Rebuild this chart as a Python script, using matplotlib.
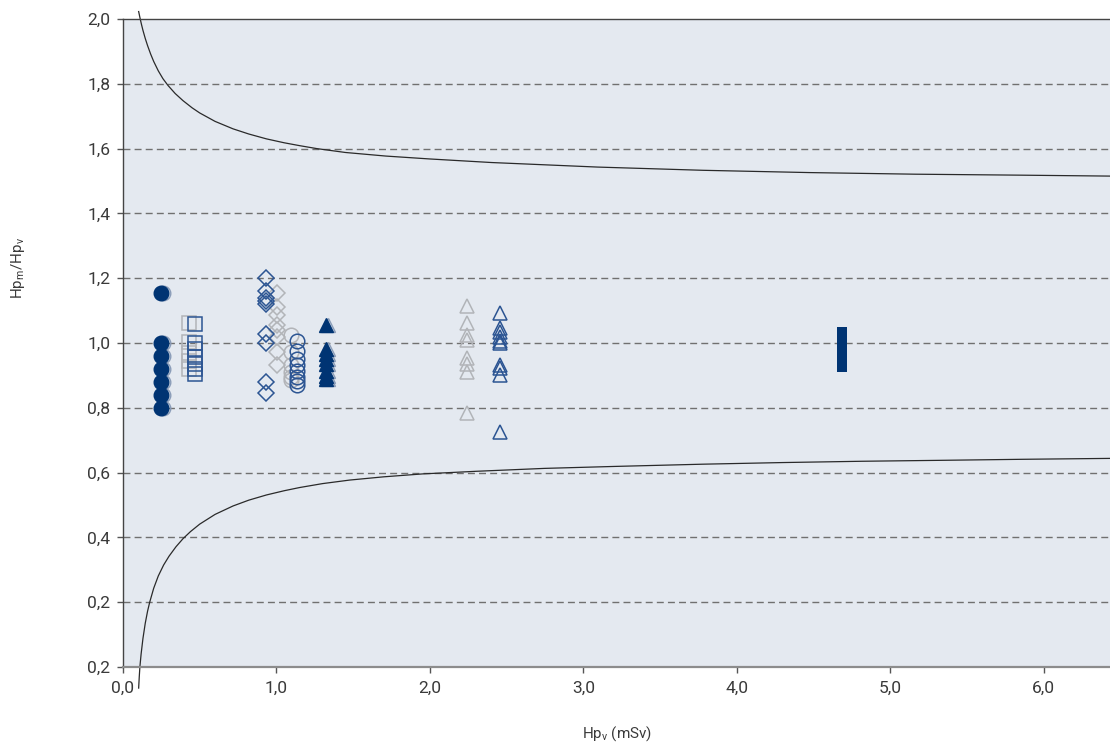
import matplotlib
matplotlib.use("Agg")
import matplotlib.pyplot as plt

# ---------------- data ----------------
# trumpet curves
upper_x = [0.102, 0.110, 0.120, 0.130, 0.145, 0.160, 0.180, 0.200, 0.230, 0.260, 0.293,
           0.340, 0.391, 0.45, 0.5, 0.6, 0.717, 0.82, 0.935, 1.05, 1.152, 1.263, 1.45,
           1.712, 2.0, 2.402, 3.092, 3.782, 4.472, 5.163, 5.852, 6.46]
upper_y = [2.023, 2.005, 1.984, 1.965, 1.940, 1.918, 1.892, 1.869, 1.840, 1.816, 1.795,
           1.770, 1.748, 1.726, 1.710, 1.684, 1.661, 1.645, 1.630, 1.618, 1.609, 1.600, 1.588,
           1.577, 1.568, 1.557, 1.543, 1.533, 1.526, 1.521, 1.518, 1.515]
lower_x = [0.102, 0.106, 0.110, 0.118, 0.130, 0.145, 0.160, 0.174, 0.200, 0.230, 0.265,
           0.30, 0.345, 0.391, 0.44, 0.5, 0.6, 0.717, 0.82, 0.935, 1.05, 1.152, 1.3,
           1.478, 1.7, 1.954, 2.3, 2.747, 3.2, 3.782, 4.3, 4.817, 5.35, 5.852, 6.46]
lower_y = [-0.065, -0.03, 0.0, 0.04, 0.088, 0.135, 0.172, 0.200, 0.243, 0.281, 0.315,
           0.342, 0.371, 0.396, 0.418, 0.441, 0.471, 0.497, 0.515, 0.531, 0.544, 0.554, 0.566,
           0.577, 0.587, 0.596, 0.604, 0.613, 0.619, 0.626, 0.631, 0.635, 0.638, 0.641, 0.644]

# filled navy circles
circ_fill_x = 0.246
circ_fill_y = [1.155, 1.0, 0.96, 0.92, 0.88, 0.84, 0.80]
# open squares (grey / blue)
sq_grey_x = 0.428
sq_grey_y = [1.063, 1.004, 0.968, 0.943, 0.919]
sq_blue_x = 0.467
sq_blue_y = [1.058, 1.0, 0.98, 0.957, 0.935, 0.919, 0.905]
# open diamonds (blue / grey)
dia_blue_x = 0.935
dia_blue_y = [1.202, 1.160, 1.140, 1.130, 1.119, 1.027, 1.0, 0.879, 0.845]
dia_grey_x = 1.006
dia_grey_y = [1.153, 1.112, 1.086, 1.056, 1.040, 1.019, 0.973, 0.932]
# open circles (grey / blue)
circ_grey_x = 1.098
circ_grey_y = [1.025, 0.973, 0.932, 0.911, 0.896, 0.886]
circ_blue_x = 1.137
circ_blue_y = [1.006, 0.975, 0.951, 0.932, 0.914, 0.896, 0.883, 0.870]
# filled navy triangles
tri_fill_x = 1.326
tri_fill_y = [1.055, 0.98, 0.965, 0.95, 0.935, 0.915, 0.898, 0.89]
# open triangles (grey / blue)
tri_grey_x = 2.245
tri_grey_y = [1.114, 1.062, 1.025, 1.009, 0.954, 0.935, 0.91, 0.784]
tri_blue_x = 2.458
tri_blue_y = [1.092, 1.045, 1.035, 1.019, 1.005, 0.999, 0.932, 0.922, 0.901, 0.726]
# range bar
bar_x = 4.683
bar_low = 0.91
bar_high = 1.05

x_ticks = [0, 1, 2, 3, 4, 5, 6]
x_labels = ["0,0", "1,0", "2,0", "3,0", "4,0", "5,0", "6,0"]
y_ticks = [0.0, 0.2, 0.4, 0.6, 0.8, 1.0, 1.2, 1.4, 1.6, 1.8, 2.0]
y_labels = ["0,2", "0,2", "0,4", "0,6", "0,8", "1,0", "1,2", "1,4", "1,6", "1,8", "2,0"]

# ---------------- style ----------------
NAVY = "#003473"
BLUE = "#2c5593"
GREY = "#b2b4b8"
SHADOW = "#8a9cb8"
BG = "#e4e9f0"
TXT = "#3a3a3a"

plt.rcParams["font.family"] = ["Roboto", "DejaVu Sans"]
plt.rcParams["mathtext.fontset"] = "custom"
plt.rcParams["mathtext.rm"] = "Roboto"
plt.rcParams["mathtext.it"] = "Roboto"

fig = plt.figure(figsize=(11.10, 7.47), dpi=100)
ax = fig.add_axes([123 / 1110, (747 - 667) / 747, 987 / 1110, 648 / 747])
ax.set_facecolor(BG)
ax.set_xlim(0, 6.432)
ax.set_ylim(0, 2.0)

# grid
for yv in y_ticks[1:-1]:
    ax.axhline(yv, color="#707070", lw=1.0, dashes=(5, 3), zorder=1)

# curves
ax.plot(upper_x, upper_y, color="#2a2a2a", lw=0.9, clip_on=False, zorder=2)
ax.plot(lower_x, lower_y, color="#2a2a2a", lw=0.9, clip_on=False, zorder=2)

dx = 0.013
ms = 10.5
# filled circles with shadow
ax.plot([circ_fill_x + dx] * len(circ_fill_y), circ_fill_y, "o", ms=ms, mfc="none",
        mec=SHADOW, mew=1.0, ls="none", zorder=3)
ax.plot([circ_fill_x] * len(circ_fill_y), circ_fill_y, "o", ms=ms, mfc=NAVY,
        mec=NAVY, mew=1.0, ls="none", zorder=4)
# squares
ax.plot([sq_grey_x] * len(sq_grey_y), sq_grey_y, "s", ms=9.5, mfc="none", mec=GREY,
        mew=1.1, ls="none", zorder=3)
ax.plot([sq_blue_x] * len(sq_blue_y), sq_blue_y, "s", ms=9.5, mfc="none", mec=BLUE,
        mew=1.1, ls="none", zorder=4)
# diamonds
ax.plot([dia_blue_x] * len(dia_blue_y), dia_blue_y, "D", ms=8.3, mfc="none", mec=BLUE,
        mew=1.1, ls="none", zorder=4)
ax.plot([dia_grey_x] * len(dia_grey_y), dia_grey_y, "D", ms=8.3, mfc="none", mec=GREY,
        mew=1.1, ls="none", zorder=3)
# open circles
ax.plot([circ_grey_x] * len(circ_grey_y), circ_grey_y, "o", ms=ms, mfc="none", mec=GREY,
        mew=1.1, ls="none", zorder=3)
ax.plot([circ_blue_x] * len(circ_blue_y), circ_blue_y, "o", ms=ms, mfc="none", mec=BLUE,
        mew=1.1, ls="none", zorder=4)
# filled triangles with shadow
ax.plot([tri_fill_x + dx] * len(tri_fill_y), tri_fill_y, "^", ms=ms, mfc="none",
        mec=SHADOW, mew=1.0, ls="none", zorder=3)
ax.plot([tri_fill_x] * len(tri_fill_y), tri_fill_y, "^", ms=ms, mfc=NAVY, mec=NAVY,
        mew=1.0, ls="none", zorder=4)
# open triangles
ax.plot([tri_grey_x] * len(tri_grey_y), tri_grey_y, "^", ms=ms, mfc="none", mec=GREY,
        mew=1.1, ls="none", zorder=3)
ax.plot([tri_blue_x] * len(tri_blue_y), tri_blue_y, "^", ms=ms, mfc="none", mec=BLUE,
        mew=1.1, ls="none", zorder=4)
# bar
ax.bar([bar_x], [bar_high - bar_low], bottom=[bar_low], width=0.066, color=NAVY, zorder=4)

# axes
ax.set_xticks(x_ticks)
ax.set_xticklabels(x_labels)
ax.set_yticks(y_ticks)
ax.set_yticklabels(y_labels)
ax.tick_params(axis="both", colors="#555555", labelcolor=TXT, labelsize=12.5,
               length=4, width=1.0)
ax.tick_params(axis="y", pad=5)
ax.tick_params(axis="x", pad=6)
ax.spines["right"].set_visible(False)
ax.spines["left"].set_color("#444444")
ax.spines["top"].set_color("#444444")
ax.spines["bottom"].set_color("#8c8c8c")
ax.spines["bottom"].set_linewidth(1.6)
for s in ["left", "top"]:
    ax.spines[s].set_linewidth(1.0)

fig.text(18 / 1110, 1 - 268 / 747, r"Hp$_\mathrm{m}$/Hp$_\mathrm{v}$", rotation=90,
         ha="center", va="center", fontsize=11, color=TXT)
fig.text(617 / 1110, 1 - 734 / 747, r"Hp$_\mathrm{v}$ (mSv)", ha="center", va="center",
         fontsize=11, color=TXT)

fig.savefig("out.png", dpi=100, facecolor="white")
